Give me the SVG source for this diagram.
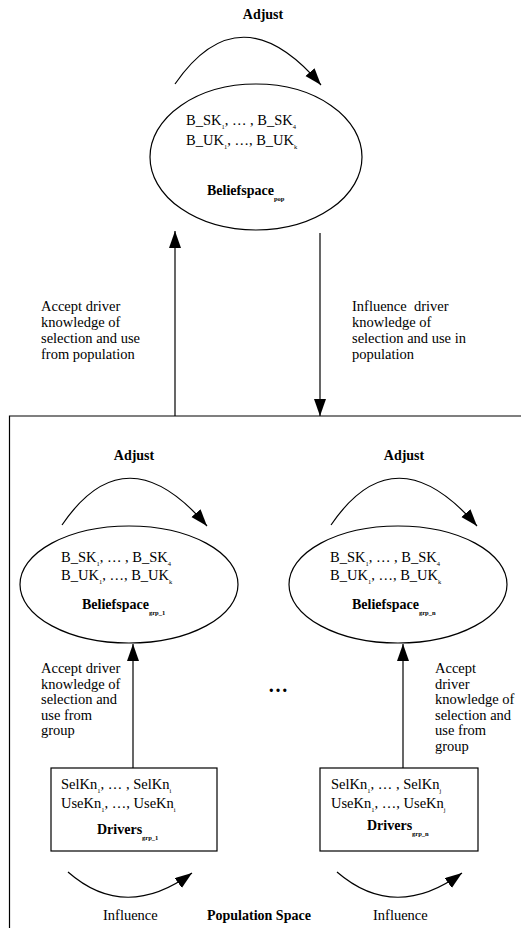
<svg xmlns="http://www.w3.org/2000/svg" width="521" height="928" viewBox="0 0 521 928">
<style>
text{font-family:"Liberation Serif","Times New Roman",serif;fill:#000;}
.t{font-size:14.5px;}
.b{font-size:14px;font-weight:bold;}
.s{font-size:6.5px;}
.sb{font-size:6.5px;font-weight:bold;}
.ln{stroke:#000;stroke-width:1.2;fill:none;}
</style>
<defs>
<marker id="ah" markerUnits="userSpaceOnUse" markerWidth="19" markerHeight="13" refX="17" refY="6" orient="auto">
<path d="M0,0 L17,6 L0,12 z" fill="#000"/>
</marker>
</defs>
<rect width="521" height="928" fill="#fff"/>

<g id="population-space">
<path class="ln" d="M521,416 H9.5 V928"/>
<text class="b" x="207" y="920">Population Space</text>
</g>

<g id="beliefspace-pop">
<ellipse class="ln" cx="256" cy="157" rx="106" ry="73"/>
<text class="t" x="186" y="125">B_SK<tspan class="s" dy="3.5">1</tspan><tspan dy="-3.5">, … , B_SK</tspan><tspan class="s" dy="3.5">4</tspan></text>
<text class="t" x="186" y="145">B_UK<tspan class="s" dy="3.5">1</tspan><tspan dy="-3.5">, …, B_UK</tspan><tspan class="s" dy="3.5">k</tspan></text>
<text class="b" x="207" y="195">Beliefspace<tspan class="sb" dy="6">pop</tspan></text>
</g>

<g id="beliefspace-grp1">
<ellipse class="ln" cx="129" cy="584.5" rx="109" ry="58.5"/>
<text class="t" x="61" y="562">B_SK<tspan class="s" dy="3.5">1</tspan><tspan dy="-3.5">, … , B_SK</tspan><tspan class="s" dy="3.5">4</tspan></text>
<text class="t" x="61" y="580">B_UK<tspan class="s" dy="3.5">1</tspan><tspan dy="-3.5">, …, B_UK</tspan><tspan class="s" dy="3.5">k</tspan></text>
<text class="b" x="82" y="609">Beliefspace<tspan class="sb" dy="6">grp_1</tspan></text>
</g>

<g id="beliefspace-grpn">
<ellipse class="ln" cx="398" cy="584.5" rx="109" ry="58.5"/>
<text class="t" x="330" y="562">B_SK<tspan class="s" dy="3.5">1</tspan><tspan dy="-3.5">, … , B_SK</tspan><tspan class="s" dy="3.5">4</tspan></text>
<text class="t" x="330" y="580">B_UK<tspan class="s" dy="3.5">1</tspan><tspan dy="-3.5">, …, B_UK</tspan><tspan class="s" dy="3.5">k</tspan></text>
<text class="b" x="352" y="609">Beliefspace<tspan class="sb" dy="6">grp_n</tspan></text>
</g>

<g id="drivers-grp1">
<rect class="ln" x="51" y="768" width="166" height="83"/>
<text class="t" x="61" y="789">SelKn<tspan class="s" dy="3.5">1</tspan><tspan dy="-3.5">, … , SelKn</tspan><tspan class="s" dy="3.5">i</tspan></text>
<text class="t" x="61" y="808">UseKn<tspan class="s" dy="3.5">1</tspan><tspan dy="-3.5">, …, UseKn</tspan><tspan class="s" dy="3.5">i</tspan></text>
<text class="b" x="97" y="834">Drivers<tspan class="sb" dy="6">grp_1</tspan></text>
</g>

<g id="drivers-grpn">
<rect class="ln" x="320" y="768" width="158" height="83"/>
<text class="t" x="331" y="789">SelKn<tspan class="s" dy="3.5">1</tspan><tspan dy="-3.5">, … , SelKn</tspan><tspan class="s" dy="3.5">j</tspan></text>
<text class="t" x="331" y="808">UseKn<tspan class="s" dy="3.5">1</tspan><tspan dy="-3.5">, …, UseKn</tspan><tspan class="s" dy="3.5">j</tspan></text>
<text class="b" x="367" y="830">Drivers<tspan class="sb" dy="6">grp_n</tspan></text>
</g>

<g id="ellipsis">
<text x="268" y="692" style="font-size:20px;font-weight:bold">…</text>
</g>

<g id="connectors">
<path class="ln" d="M175,84 Q240,-10 321,85" marker-end="url(#ah)"/>
<path class="ln" d="M62,525 Q126,431 207,526" marker-end="url(#ah)"/>
<path class="ln" d="M331,525 Q395,431 477,526" marker-end="url(#ah)"/>
<path class="ln" d="M175,416 V231" marker-end="url(#ah)"/>
<path class="ln" d="M320,233 V416" marker-end="url(#ah)"/>
<path class="ln" d="M133,768 V644" marker-end="url(#ah)"/>
<path class="ln" d="M403,768 V644" marker-end="url(#ah)"/>
<path class="ln" d="M68,872 Q125,922 192,873" marker-end="url(#ah)"/>
<path class="ln" d="M337,872 Q395,922 462,873" marker-end="url(#ah)"/>
</g>

<g id="labels">
<text class="b" x="263" y="19" text-anchor="middle">Adjust</text>
<text class="b" x="134" y="460" text-anchor="middle">Adjust</text>
<text class="b" x="404" y="460" text-anchor="middle">Adjust</text>
<text class="t" x="41" y="311">Accept driver</text>
<text class="t" x="41" y="327">knowledge of</text>
<text class="t" x="41" y="343">selection and use</text>
<text class="t" x="41" y="359">from population</text>
<text class="t" x="352" y="311" xml:space="preserve">Influence  driver</text>
<text class="t" x="352" y="327">knowledge of</text>
<text class="t" x="352" y="343">selection and use in</text>
<text class="t" x="352" y="359">population</text>
<text class="t" x="41" y="673">Accept driver</text>
<text class="t" x="41" y="688.5">knowledge of</text>
<text class="t" x="41" y="704">selection and</text>
<text class="t" x="41" y="719.5">use from</text>
<text class="t" x="41" y="735">group</text>
<text class="t" x="435" y="673">Accept</text>
<text class="t" x="435" y="688.5">driver</text>
<text class="t" x="435" y="704">knowledge of</text>
<text class="t" x="435" y="719.5">selection and</text>
<text class="t" x="435" y="735">use from</text>
<text class="t" x="435" y="750.5">group</text>
<text class="t" x="103" y="920">Influence</text>
<text class="t" x="373" y="920">Influence</text>
</g>
</svg>
